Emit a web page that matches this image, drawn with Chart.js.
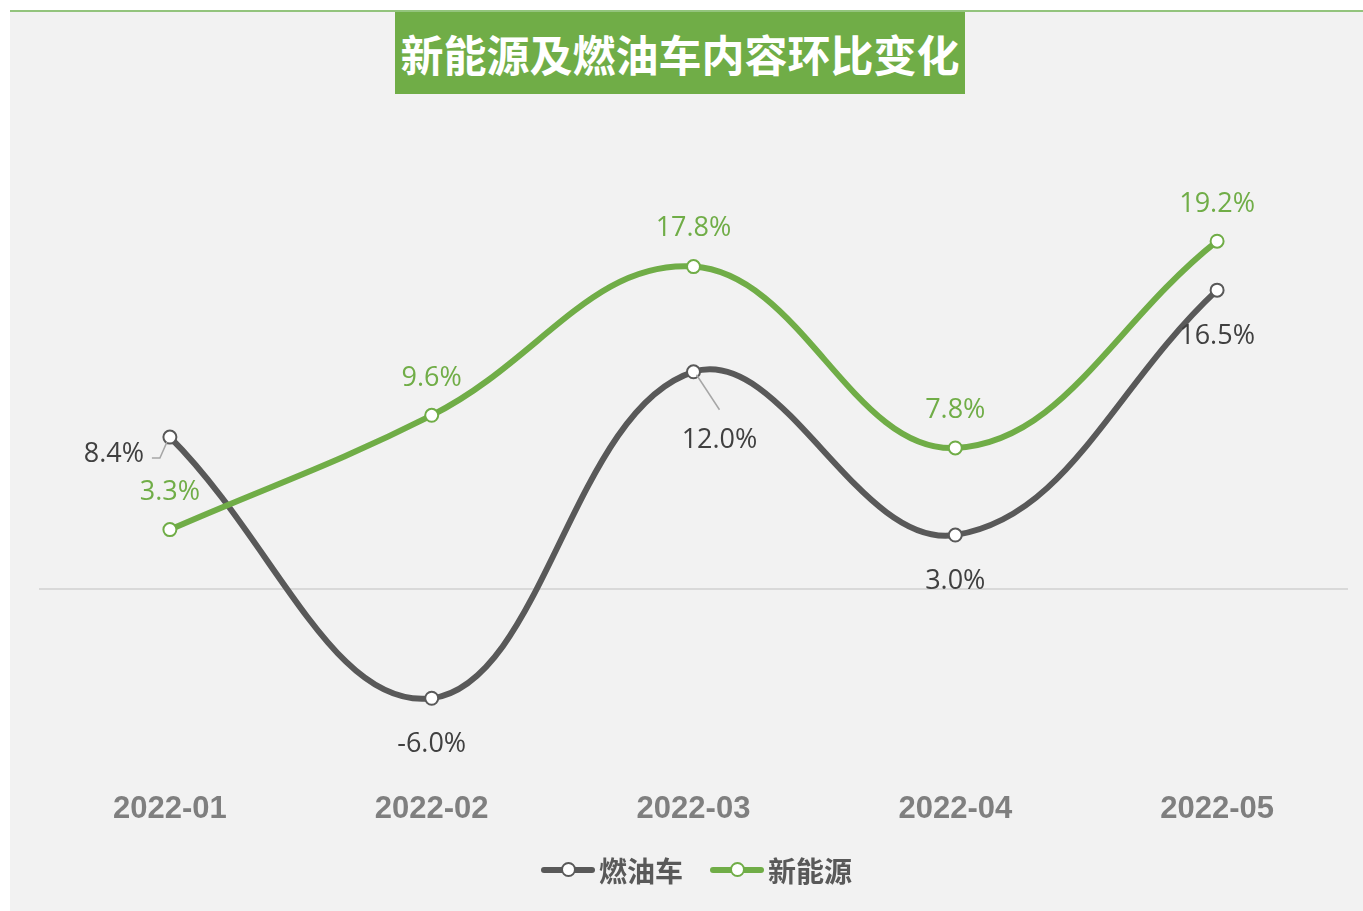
<!DOCTYPE html>
<html>
<head>
<meta charset="utf-8">
<script src="https://cdn.jsdelivr.net/npm/chart.js@4.4.1/dist/chart.umd.min.js"></script>
<style>
  body { margin: 0; background: #ffffff; width: 1363px; height: 911px; overflow: hidden; position: relative; }
  #panel { position: absolute; left: 10px; top: 10px; right: 0; bottom: 0; background: #f2f2f2; border-top: 2px solid #93c47d; }
  #title { position: absolute; left: 395px; top: 12px; width: 570px; height: 82px; background: #70ad47; color: #fff;
           font: bold 43px "Noto Sans CJK SC", sans-serif; line-height: 82px; text-align: center; }
  #wrap { position: absolute; left: 0; top: 0; width: 1363px; height: 911px; }
  #legend { position: absolute; left: 30px; width: 1333px; top: 850px; height: 40px; display: flex; justify-content: center; align-items: center; gap: 27px;
            font: bold 28px "Noto Sans CJK SC", sans-serif; color: #595959; }
  .item { display: flex; align-items: center; }
  .mark { position: relative; width: 54px; height: 6px; margin-right: 4px; border-radius: 3px; }
  .mark i { position: absolute; left: 20px; top: -5px; width: 11px; height: 11px; border-radius: 50%; background: #fff; border: 2px solid; box-sizing: content-box; }
</style>
</head>
<body>
<div id="panel"></div>
<div id="title">新能源及燃油车内容环比变化</div>
<div id="wrap"><canvas id="chart" width="1363" height="911"></canvas></div>
<div id="legend"></div>
<script>
// 月份
const categories = ['2022-01', '2022-02', '2022-03', '2022-04', '2022-05'];
// 環比 (%)
const fuelValues = [8.4, -6.0, 12.0, 3.0, 16.5];
const nevValues = [3.3, 9.6, 17.8, 7.8, 19.2];
const seriesNames = ['燃油车', '新能源'];
const seriesColors = ['#595959', '#70ad47'];

// データラベルを点の近くに描く（引き出し線つき）
const labelPlugin = {
    id: 'pointLabels',
    afterDatasetsDraw(chart) {
        const ctx = chart.ctx;
        ctx.save();
        ctx.font = '27px "Open Sans", sans-serif';
        ctx.textAlign = 'center';
        ctx.textBaseline = 'middle';
        chart.data.datasets.forEach((ds, i) => {
            const meta = chart.getDatasetMeta(i);
            meta.data.forEach((pt, j) => {
                const pos = ds.labelPos[j];
                if (pos[2]) {
                    ctx.strokeStyle = '#a6a6a6';
                    ctx.lineWidth = 1.5;
                    ctx.beginPath();
                    pos[2].forEach((p, k) => {
                        if (k === 0) ctx.moveTo(pt.x + p[0], pt.y + p[1]);
                        else ctx.lineTo(pt.x + p[0], pt.y + p[1]);
                    });
                    ctx.stroke();
                }
                ctx.fillStyle = ds.labelColor;
                ctx.fillText(ds.data[j].toFixed(1) + '%', pt.x + pos[0], pt.y + pos[1] + 2);
            });
        });
        ctx.restore();
    }
};

const ctx = document.getElementById('chart').getContext('2d');
const chart = new Chart(ctx, {
    type: 'line',
    data: {
        labels: categories,
        datasets: [{
            label: seriesNames[0],
            data: fuelValues,
            borderColor: seriesColors[0],
            borderWidth: 6,
            pointBackgroundColor: '#ffffff',
            pointBorderColor: seriesColors[0],
            pointBorderWidth: 2,
            pointRadius: 6.5,
            tension: 0.4,
            order: 1,
            labelColor: '#404040',
            labelPos: [
                [-56, 15, [[-18, 21], [-10, 21], [-3, 5]]],
                [0, 44],
                [26, 67, [[3, 3], [26, 38]]],
                [0, 44],
                [0, 44]
            ]
        }, {
            label: seriesNames[1],
            data: nevValues,
            borderColor: seriesColors[1],
            borderWidth: 6,
            pointBackgroundColor: '#ffffff',
            pointBorderColor: seriesColors[1],
            pointBorderWidth: 2,
            pointRadius: 6.5,
            tension: 0.4,
            order: 0,
            labelColor: '#70ad47',
            labelPos: [[0, -39], [0, -39], [0, -40], [0, -40], [0, -39]]
        }]
    },
    options: {
        responsive: false,
        animation: false,
        layout: { padding: { left: 39, right: 15, top: 136, bottom: 71 } },
        scales: {
            x: {
                offset: true,
                grid: { display: false },
                border: { display: false },
                ticks: {
                    padding: 12,
                    color: '#7f7f7f',
                    font: { family: '"Liberation Sans", Arial, sans-serif', size: 31, weight: 'bold' }
                }
            },
            y: {
                min: -10,
                max: 25,
                border: { display: false },
                ticks: { display: false },
                grid: {
                    drawTicks: false,
                    lineWidth: 2,
                    color: c => c.tick && c.tick.value === 0 ? '#d9d9d9' : 'rgba(0,0,0,0)'
                }
            }
        },
        plugins: {
            legend: { display: false },
            tooltip: { enabled: false }
        }
    },
    plugins: [labelPlugin]
});

// 凡例はHTMLで作る
const legendDiv = document.getElementById('legend');
seriesNames.forEach((name, i) => {
    legendDiv.innerHTML += `<div class="item"><span class="mark" style="background:${seriesColors[i]}"><i style="border-color:${seriesColors[i]}"></i></span>${name}</div>`;
});
</script>
</body>
</html>
